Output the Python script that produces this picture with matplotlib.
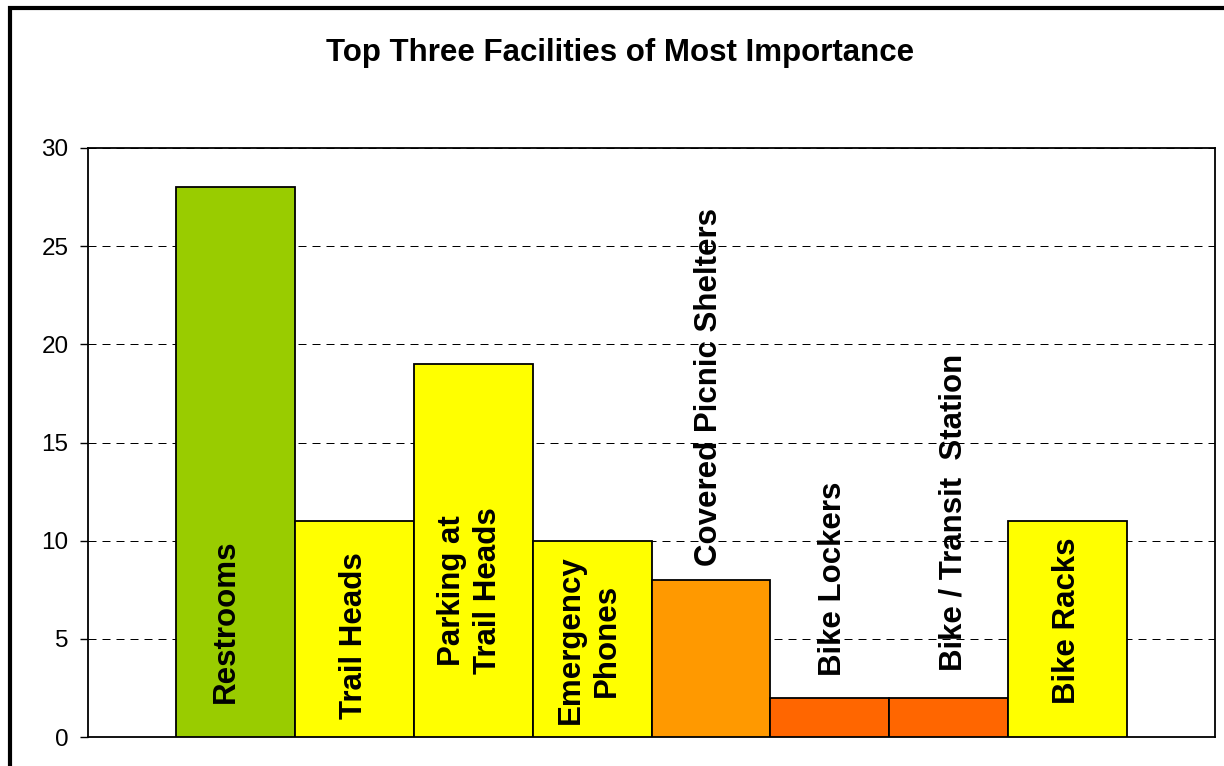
import matplotlib
matplotlib.use('Agg')
import matplotlib.pyplot as plt
from matplotlib.patches import Rectangle

# data
facilities = ['Restrooms', 'Trail Heads', 'Parking at\nTrail Heads', 'Emergency\nPhones',
              'Covered Picnic Shelters', 'Bike Lockers', 'Bike / Transit  Station', 'Bike Racks']
counts = [28, 11, 19, 10, 8, 2, 2, 11]
bar_colors = ['#99CC00', '#FFFF00', '#FFFF00', '#FFFF00', '#FF9900', '#FF6600', '#FF6600', '#FFFF00']
y_ticks = [0, 5, 10, 15, 20, 25, 30]

# label placement (centre of each rotated label, in data units)
label_y = [5.91, 5.14, 7.44, 4.94, 17.85, 8.07, 11.43, 5.91]
label_dx = [-0.08, 0.0, -0.03, -0.03, -0.02, 0.03, 0.04, 0.0]

plt.rcParams['font.family'] = ['Liberation Sans', 'DejaVu Sans']

fig = plt.figure(figsize=(12.24, 7.66), dpi=100)
ax = fig.add_axes([88 / 1224, 1 - 737 / 766, (1215 - 88) / 1224, (737 - 148) / 766])

x = list(range(len(counts)))
ax.bar(x, counts, width=1.0, color=bar_colors, edgecolor='black', linewidth=1.3, zorder=3)

for i, name in enumerate(facilities):
    ax.text(i + label_dx[i], label_y[i], name, rotation=90, ha='center', va='center',
            multialignment='center', fontsize=22.5, fontweight='bold', zorder=4,
            linespacing=1.25)

ax.set_xlim(-0.5 - 0.741, len(counts) - 0.5 + 0.741)
ax.set_ylim(0, 30)
ax.set_yticks(y_ticks)
ax.set_xticks([])
ax.tick_params(axis='y', labelsize=17.5, length=6, width=1, pad=8, colors='black')
ax.yaxis.grid(True, color='black', linestyle=(0, (8, 6)), linewidth=0.72, zorder=0)
ax.set_axisbelow(True)
for s in ax.spines.values():
    s.set_linewidth(1.3)
    s.set_color('black')

fig.text(620 / 1224, 1 - 53 / 766, 'Top Three Facilities of Most Importance',
         ha='center', va='center', fontsize=22.5, fontweight='bold')

# outer chart frame
fig.patches.append(Rectangle((10 / 1224, -0.1), 1.2, 1.1 - 8 / 766, transform=fig.transFigure,
                             fill=False, edgecolor='black', linewidth=3))

fig.savefig('out.png', dpi=100)
